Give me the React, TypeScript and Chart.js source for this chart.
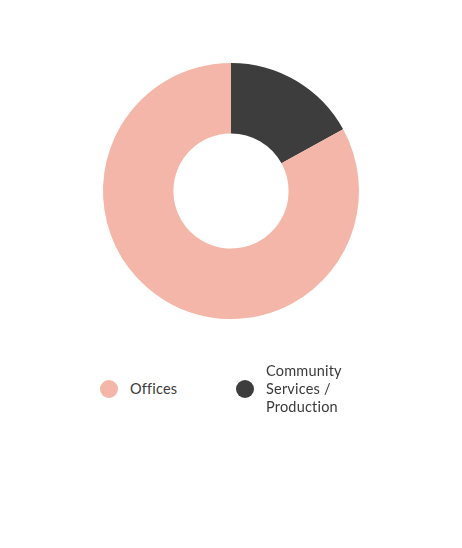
import React, { useEffect, useRef } from "react";
import { Chart, registerables } from "chart.js";

Chart.register(...registerables);

const categories = ["Community Services / Production", "Offices"];
const values = [17, 83];
const colors = ["#3d3d3d", "#f4b6a8"];
const legendOrder = [1, 0];

export default function App() {
  const ref = useRef<HTMLCanvasElement | null>(null);
  useEffect(() => {
    if (!ref.current) return;
    const chart = new Chart(ref.current, {
      type: "doughnut",
      data: {
        labels: categories,
        datasets: [
          {
            data: values,
            backgroundColor: colors,
            borderWidth: 0,
            hoverOffset: 0,
          },
        ],
      },
      options: {
        responsive: false,
        animation: false,
        cutout: "45%",
        layout: { padding: 55 },
        plugins: { legend: { display: false }, tooltip: { enabled: false } },
      },
    });
    return () => chart.destroy();
  }, []);

  return (
    <div style={{ position: "relative", width: 446, height: 532, fontFamily: "Lato, sans-serif" }}>
      <canvas ref={ref} width={446} height={366} style={{ position: "absolute", left: 0, top: 0 }} />
      {legendOrder.map((idx, i) => (
        <div
          key={idx}
          style={{
            position: "absolute",
            left: i === 0 ? 92 : 228,
            top: 381,
            transform: "translateY(-50%)",
            display: "flex",
            alignItems: "center",
          }}
        >
          <span
            style={{
              width: 18,
              height: 18,
              borderRadius: "50%",
              background: colors[idx],
              display: "inline-block",
              flex: "none",
            }}
          />
          <span
            style={{
              marginLeft: 12,
              width: 90,
              fontSize: 14.5,
              letterSpacing: 0.2,
              lineHeight: "18px",
              color: "#3a3a3a",
            }}
          >
            {categories[idx]}
          </span>
        </div>
      ))}
    </div>
  );
}
